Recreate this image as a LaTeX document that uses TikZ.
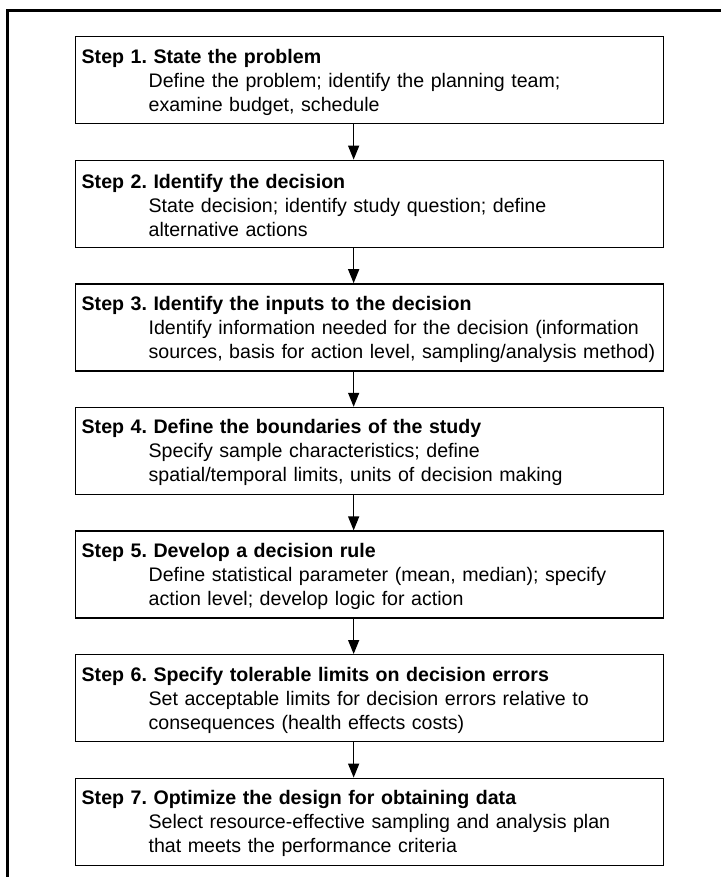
\documentclass[tikz,border=0pt]{standalone}
\usepackage{fontspec}
\setmainfont{Liberation Sans}
\usetikzlibrary{arrows.meta, positioning}
\newcommand{\bodyind}[1]{\hspace*{67pt}\mbox{#1}}
\frenchspacing

\begin{document}
\begin{tikzpicture}[
    x=1pt, y=-1pt,
    stepbox/.style={draw, line width=1.3pt, rectangle, minimum width=588pt, minimum height=87pt,
        text width=576pt, inner xsep=6pt, inner ysep=0pt, text height=18pt, align=left,
        font=\fontsize{19.6}{24}\selectfont},
    arr/.style={-{Triangle[width=11pt,length=14pt]}, line width=1.4pt},
    node distance=35.3pt
]
\useasboundingbox (0,0) rectangle (721,877);
% outer frame, cut off at right and bottom
\draw[line width=3pt] (7.5,877) -- (7.5,10.5) -- (721,10.5);

\node[stepbox, anchor=north west] (s1) at (75,36) {\textbf{Step 1. State the problem}\\
    \bodyind{Define the problem; identify the planning team;}\\
    \bodyind{examine budget, schedule}};
\node[stepbox, below=of s1] (s2) {\textbf{Step 2. Identify the decision}\\
    \bodyind{State decision; identify study question; define}\\
    \bodyind{alternative actions}};
\node[stepbox, below=of s2] (s3) {\textbf{Step 3. Identify the inputs to the decision}\\
    \bodyind{Identify information needed for the decision (information}\\
    \bodyind{sources, basis for action level, sampling/analysis method)}};
\node[stepbox, below=of s3] (s4) {\textbf{Step 4. Define the boundaries of the study}\\
    \bodyind{Specify sample characteristics; define}\\
    \bodyind{spatial/temporal limits, units of decision making}};
\node[stepbox, below=of s4] (s5) {\textbf{Step 5. Develop a decision rule}\\
    \bodyind{Define statistical parameter (mean, median); specify}\\
    \bodyind{action level; develop logic for action}};
\node[stepbox, below=of s5] (s6) {\textbf{Step 6. Specify tolerable limits on decision errors}\\
    \bodyind{Set acceptable limits for decision errors relative to}\\
    \bodyind{consequences (health effects costs)}};
\node[stepbox, below=of s6] (s7) {\textbf{Step 7. Optimize the design for obtaining data}\\
    \bodyind{Select resource-effective sampling and analysis plan}\\
    \bodyind{that meets the performance criteria}};

\draw[arr] ([xshift=-16pt]s1.south) -- ([xshift=-16pt]s2.north);
\draw[arr] ([xshift=-16pt]s2.south) -- ([xshift=-16pt]s3.north);
\draw[arr] ([xshift=-16pt]s3.south) -- ([xshift=-16pt]s4.north);
\draw[arr] ([xshift=-16pt]s4.south) -- ([xshift=-16pt]s5.north);
\draw[arr] ([xshift=-16pt]s5.south) -- ([xshift=-16pt]s6.north);
\draw[arr] ([xshift=-16pt]s6.south) -- ([xshift=-16pt]s7.north);
\end{tikzpicture}
\end{document}
